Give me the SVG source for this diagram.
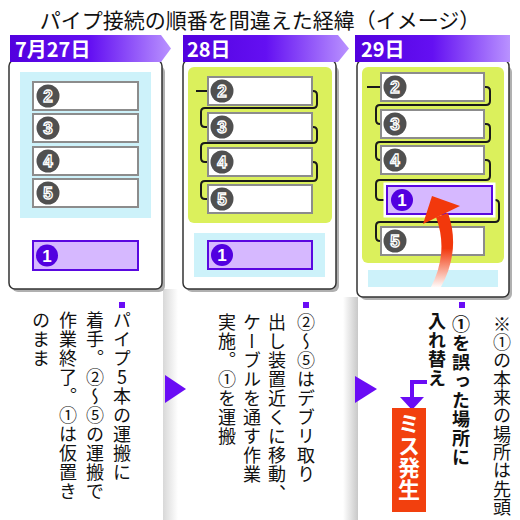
<svg xmlns="http://www.w3.org/2000/svg" width="520" height="520" viewBox="0 0 520 520">
<defs>
<linearGradient id="bannerGrad" x1="0" y1="0" x2="1" y2="0">
<stop offset="0" stop-color="#5200de"/>
<stop offset="0.5" stop-color="#6410f2"/>
<stop offset="1" stop-color="#b992ff"/>
</linearGradient>
<linearGradient id="sepA" x1="0" y1="0" x2="1" y2="0">
<stop offset="0" stop-color="#d8d8d8"/>
<stop offset="1" stop-color="#ffffff"/>
</linearGradient>
<linearGradient id="sepB" x1="0" y1="0" x2="1" y2="0">
<stop offset="0" stop-color="#ffffff"/>
<stop offset="1" stop-color="#c8c8c8"/>
</linearGradient>
<linearGradient id="redFade" gradientUnits="userSpaceOnUse" x1="0" y1="200" x2="0" y2="288">
<stop offset="0" stop-color="#f2380c"/>
<stop offset="0.55" stop-color="#f2380c"/>
<stop offset="1" stop-color="#ffffff"/>
</linearGradient>
</defs>
<style>
.title{font-family:"Noto Sans CJK JP","Noto Sans",sans-serif;font-size:21px;fill:#111}
.hdr{font-family:"Noto Sans CJK JP","Liberation Sans",sans-serif;font-size:20px;font-weight:bold;fill:#fff}
.banner{fill:url(#bannerGrad)}
.shadow{fill:#b0b0b0}
.panel{fill:#fff;stroke:#333;stroke-width:1.5}
.blue{fill:#cdf2fa}
.green{fill:#dbf05c}
.box{fill:#fff;stroke:#8c8c8c;stroke-width:2}
.box1{fill:#d6b8ff;stroke:#5a08e0;stroke-width:2}
.glow{fill:none;stroke:#fff;stroke-width:7}
.num{fill:#505050}
.numt{font-family:"Liberation Sans",sans-serif;font-weight:bold;font-size:17px;fill:#505050;stroke:#fff;stroke-width:1.3;text-anchor:middle}
.num1{fill:#5200e0}
.num1t{font-family:"Liberation Sans",sans-serif;font-weight:bold;font-size:17px;fill:#fff;text-anchor:middle}
.cable{fill:none;stroke:#1a1a1a;stroke-width:2}
.vt{font-family:"Noto Sans CJK JP",sans-serif;font-size:18px;fill:#111;writing-mode:vertical-rl;text-orientation:upright;letter-spacing:1px}
.vtb{font-weight:bold}
.miss{font-family:"Noto Sans CJK JP",sans-serif;font-size:22px;font-weight:bold;fill:#fff;writing-mode:vertical-rl;text-orientation:upright}
.mark{fill:#6a0cf5}
</style>
<rect width="520" height="520" fill="#fff"/>
<text class="title" x="260" y="27.5" text-anchor="middle">パイプ接続の順番を間違えた経緯（イメージ）</text>

<!-- separators -->
<rect x="163" y="289" width="15" height="231" fill="url(#sepA)"/>
<rect x="343" y="297" width="15" height="223" fill="url(#sepB)"/>

<!-- Column 1 -->
<g id="day1">
<rect class="shadow" x="12" y="66" width="153" height="226" rx="6"/>
<rect class="panel" x="9" y="60" width="153" height="229" rx="6"/>
<polygon class="banner" points="10,35 161,35 171,48.5 161,62 10,62"/>
<text class="hdr" x="15" y="57">7月27日</text>
<rect class="blue" x="20" y="72" width="131" height="146"/>
</g>
<g id="d1-p2"><rect class="box" x="33" y="82" width="105" height="28"/><circle class="num" cx="48" cy="96" r="11.5"/><text class="numt" x="48" y="102">2</text></g>
<g id="d1-p3"><rect class="box" x="33" y="114" width="105" height="28"/><circle class="num" cx="48" cy="128" r="11.5"/><text class="numt" x="48" y="134">3</text></g>
<g id="d1-p4"><rect class="box" x="33" y="147" width="105" height="28"/><circle class="num" cx="48" cy="161" r="11.5"/><text class="numt" x="48" y="167">4</text></g>
<g id="d1-p5"><rect class="box" x="33" y="179" width="105" height="28"/><circle class="num" cx="48" cy="193" r="11.5"/><text class="numt" x="48" y="199">5</text></g>
<g id="d1-p1"><rect class="box1" x="33" y="241" width="105" height="29"/><circle class="num1" cx="47" cy="255.5" r="11"/><text class="num1t" x="47" y="261.5">1</text></g>

<!-- Column 2 -->
<g id="day2">
<rect class="shadow" x="186" y="66" width="153" height="226" rx="6"/>
<rect class="panel" x="183" y="60" width="153" height="229" rx="6"/>
<polygon class="banner" points="183,35 338,35 349,48.5 338,62 183,62"/>
<text class="hdr" x="187" y="57">28日</text>
<rect class="green" x="188" y="67" width="144" height="156" rx="6"/>
<rect class="blue" x="194" y="233" width="131" height="44"/>
</g>
<g id="connectors">
<path class="cable" d="M196,91 H212 M308,91 H313 Q317,91 317,95 V104 Q317,108 313,108 H205 Q201,108 201,112 V123 Q201,127 205,127 H212 M308,127 H313 Q317,127 317,131 V139 Q317,143 313,143 H205 Q201,143 201,147 V158 Q201,162 205,162 H212 M308,162 H313 Q317,162 317,166 V177 Q317,181 313,181 H205 Q201,181 201,185 V195 Q201,199 205,199 H212"/>
</g>
<g id="d2-p2"><rect class="box" x="208" y="77" width="104" height="28"/><circle class="num" cx="222" cy="91" r="11.5"/><text class="numt" x="222" y="97">2</text></g>
<g id="d2-p3"><rect class="box" x="208" y="113" width="104" height="28"/><circle class="num" cx="222" cy="127" r="11.5"/><text class="numt" x="222" y="133">3</text></g>
<g id="d2-p4"><rect class="box" x="208" y="148" width="104" height="28"/><circle class="num" cx="222" cy="162" r="11.5"/><text class="numt" x="222" y="168">4</text></g>
<g id="d2-p5"><rect class="box" x="208" y="185" width="104" height="28"/><circle class="num" cx="222" cy="199" r="11.5"/><text class="numt" x="222" y="205">5</text></g>
<g id="d2-p1"><rect class="box1" x="208" y="241" width="104" height="28"/><circle class="num1" cx="222" cy="255" r="11"/><text class="num1t" x="222" y="261">1</text></g>

<!-- Column 3 -->
<g id="day3">
<rect class="shadow" x="360" y="66" width="152" height="234" rx="6"/>
<rect class="panel" x="357" y="60" width="152" height="237" rx="6"/>
<polygon class="banner" points="355,35 510,35 510,62 355,62"/>
<text class="hdr" x="361" y="57">29日</text>
<rect class="green" x="362" y="67" width="142" height="196" rx="6"/>
<rect class="blue" x="368" y="270" width="130" height="17"/>
</g>
<g id="connectors3">
<path class="cable" d="M367,87 H385 M480,87 H486 Q490,87 490,91 V101 Q490,105 486,105 H380 Q376,105 376,109 V120 Q376,124 380,124 H385 M480,124 H486 Q490,124 490,128 V138 Q490,142 486,142 H380 Q376,142 376,146 V156 Q376,160 380,160 H385 M480,160 H486 Q490,160 490,164 V176 Q490,180 486,180 H380 Q376,180 376,184 V196 Q376,200 380,200 H390 M488,200 H495 Q499,200 499,204 V218 Q499,222 495,222 H380 Q376,222 376,226 V237 Q376,241 380,241 H385"/>
</g>
<g id="d3-p2"><rect class="box" x="381" y="73" width="103" height="28"/><circle class="num" cx="395" cy="87" r="11.5"/><text class="numt" x="395" y="93">2</text></g>
<g id="d3-p3"><rect class="box" x="381" y="110" width="103" height="28"/><circle class="num" cx="395" cy="124" r="11.5"/><text class="numt" x="395" y="130">3</text></g>
<g id="d3-p4"><rect class="box" x="381" y="146" width="103" height="28"/><circle class="num" cx="395" cy="160" r="11.5"/><text class="numt" x="395" y="166">4</text></g>
<g id="d3-p1"><rect class="glow" x="387" y="186" width="105" height="28"/><rect class="box1" x="387" y="186" width="105" height="28"/><circle class="num1" cx="402" cy="200" r="11"/><text class="num1t" x="402" y="206">1</text></g>
<g id="d3-p5"><rect class="box" x="381" y="227" width="103" height="28"/><circle class="num" cx="395" cy="241" r="11.5"/><text class="numt" x="395" y="247">5</text></g>
<g id="moveArrow">
<path d="M436,217 Q449,252 431,287 L441,287 Q461,250 448,213 Z" fill="url(#redFade)"/>
<polygon points="432,196 423,224 460,206" fill="#f2380c"/>
</g>

<!-- Bottom texts -->
<g id="note1">
<rect class="mark" x="119" y="302" width="6" height="6"/>
<text class="vt" x="122" y="311">パイプ5本の運搬に</text>
<text class="vt" x="95" y="311">着手。②～⑤の運搬で</text>
<text class="vt" x="68" y="311">作業終了。①は仮置き</text>
<text class="vt" x="41" y="311">のまま</text>
</g>
<polygon class="mark" points="165,375 165,403 186,389"/>
<g id="note2">
<rect class="mark" x="303" y="302" width="6" height="6"/>
<text class="vt" x="306" y="313">②～⑤はデブリ取り</text>
<text class="vt" x="277" y="313">出し装置近くに移動、</text>
<text class="vt" x="252" y="313">ケーブルを通す作業</text>
<text class="vt" x="227" y="313">実施。①を運搬</text>
</g>
<polygon class="mark" points="355,376 355,403 377,389"/>
<g id="note3">
<rect class="mark" x="459" y="302" width="6" height="6"/>
<text class="vt vtb" x="461" y="315">①を誤った場所に</text>
<text class="vt vtb" x="437" y="312">入れ替え</text>
<text class="vt" x="502" y="315" style="letter-spacing:0.3px">※①の本来の場所は先頭</text>
<path d="M427,382 H412 V399" fill="none" stroke="#6a0cf5" stroke-width="4"/>
<polygon class="mark" points="400,397 424,397 412,410"/>
</g>
<g id="miss">
<rect x="392" y="408" width="34" height="104" fill="#f2400e"/>
<text class="miss" x="409" y="413">ミス発生</text>
</g>
</svg>
